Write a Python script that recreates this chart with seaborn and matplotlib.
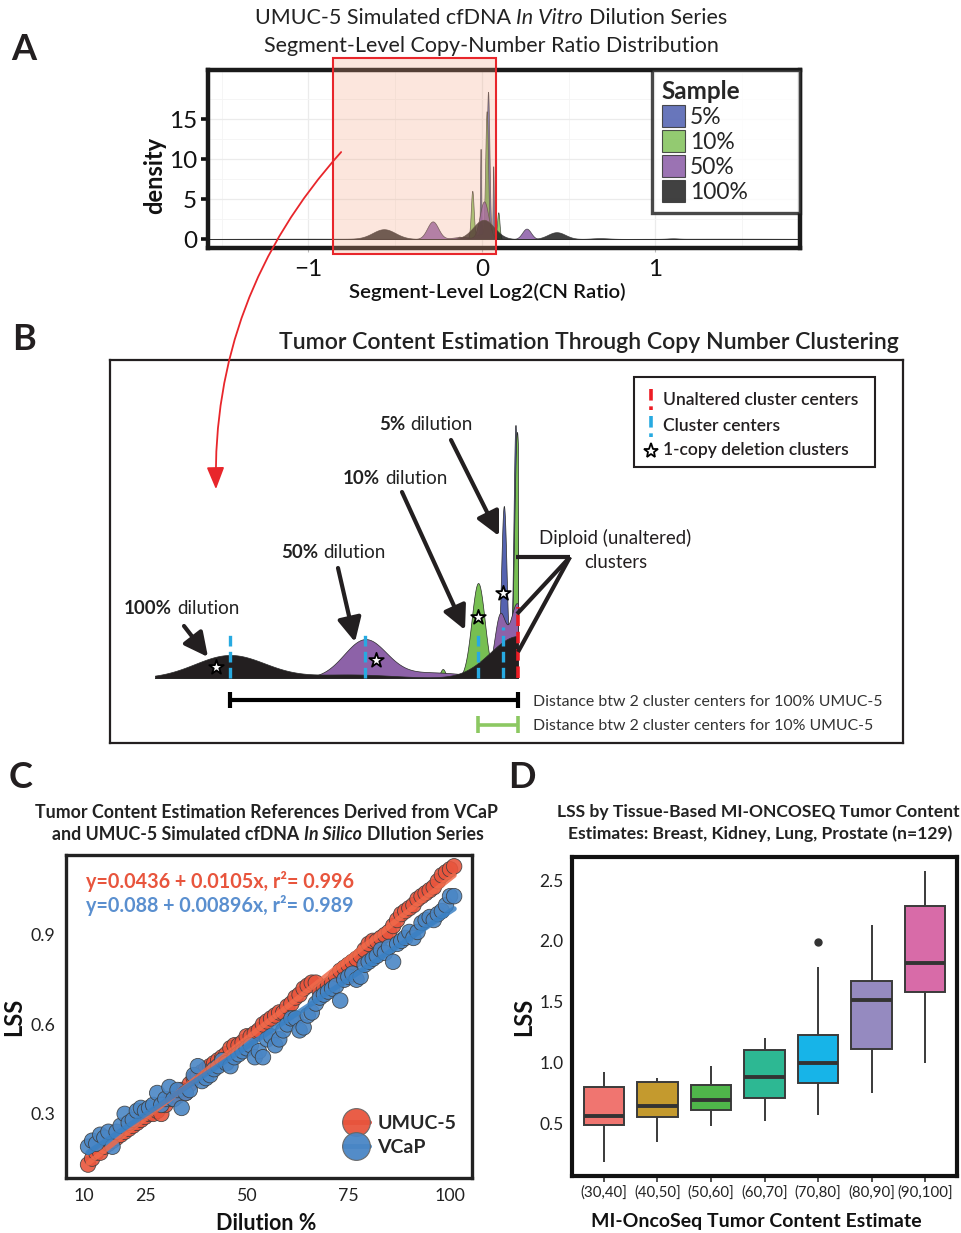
import numpy as np
import pandas as pd
import matplotlib
matplotlib.use("Agg")
import matplotlib.pyplot as plt
import seaborn as sns
from matplotlib.patches import Rectangle, FancyArrowPatch, Patch
from matplotlib.lines import Line2D
from matplotlib.transforms import blended_transform_factory

# ======================= DATA =======================
samples = ["5%", "10%", "50%", "100%"]
sample_colors = ["#4d5eb0", "#80c158", "#8a5aa6", "#1f1f1f"]

# Panel A: density peaks (log2 ratio centre, peak density, peak width)
a_centers = {"5%": [0.035, -0.008, 0.065, 0.0],
             "10%": [-0.056, 0.027, 0.094, -0.13, 0.0],
             "50%": [-0.284, 0.012, 0.257, -0.12],
             "100%": [-0.565, 0.01, 0.43, 0.68, 1.10, -1.0, 1.4]}
a_heights = {"5%": [18.0, 10.5, 9.0, 0.8],
             "10%": [5.8, 15.5, 3.3, 0.3, 0.6],
             "50%": [2.2, 4.7, 1.3, 0.25],
             "100%": [1.2, 2.4, 0.85, 0.1, 0.06, 0.04, 0.04]}
a_widths = {"5%": [0.008, 0.003, 0.003, 0.03],
            "10%": [0.008, 0.008, 0.007, 0.008, 0.04],
            "50%": [0.032, 0.025, 0.025, 0.05],
            "100%": [0.065, 0.06, 0.05, 0.05, 0.03, 0.45, 0.45]}

# Panel B: schematic zoom of the boxed region (relative heights)
b_colors = {"5%": "#5563b0", "10%": "#77bf52", "50%": "#8d62a8", "100%": "#231f20"}
b_draw_order = ["5%", "10%", "50%", "100%"]
b_centers = {"5%": [-0.028, -0.005], "10%": [-0.079, -0.149, -0.002],
             "50%": [-0.303, -0.17, -0.036, -0.002], "100%": [-0.57, -0.33, 0.0]}
b_heights = {"5%": [17.2, 25.3], "10%": [9.5, 0.9, 24.6],
             "50%": [3.8, 0.55, 6.0, 7.4], "100%": [2.3, 0.35, 4.2]}
b_widths = {"5%": [0.0055, 0.004], "10%": [0.013, 0.005, 0.0055],
            "50%": [0.042, 0.07, 0.011, 0.014], "100%": [0.07, 0.08, 0.055]}
b_cluster_centers = [-0.570, -0.303, -0.079, -0.030]
b_cluster_line_tops = [4.5, 4.5, 4.6, 5.1]
b_unaltered_center = 0.0
b_unaltered_top = 7.1
b_star_x = [-0.598, -0.281, -0.079, -0.030]
b_star_y = [1.1, 1.8, 6.1, 8.5]

# Panel C: LSS vs dilution
dilution = list(range(11, 102))
umuc5_lss = [0.13, 0.15, 0.17, 0.17, 0.19, 0.20, 0.21, 0.22, 0.23, 0.24,
             0.25, 0.26, 0.27, 0.28, 0.29, 0.30, 0.30, 0.31, 0.30, 0.33,
             0.35, 0.35, 0.36, 0.38, 0.37, 0.40, 0.42, 0.43, 0.44, 0.45,
             0.46, 0.47, 0.48, 0.49, 0.50, 0.52, 0.53, 0.53, 0.54, 0.56,
             0.56, 0.57, 0.58, 0.60, 0.61, 0.62, 0.63, 0.64, 0.64, 0.66,
             0.67, 0.69, 0.70, 0.72, 0.73, 0.74, 0.74, 0.71, 0.72, 0.73,
             0.74, 0.76, 0.78, 0.79, 0.80, 0.81, 0.82, 0.83, 0.85, 0.87,
             0.88, 0.88, 0.89, 0.90, 0.91, 0.93, 0.95, 0.97, 0.98, 0.99,
             1.00, 1.02, 1.03, 1.04, 1.05, 1.06, 1.08, 1.10, 1.11, 1.12,
             1.13]
vcap_lss = [0.19, 0.21, 0.20, 0.23, 0.22, 0.24, 0.19, 0.24, 0.26, 0.30,
            0.27, 0.28, 0.31, 0.32, 0.31, 0.32, 0.33, 0.37, 0.33, 0.35,
            0.39, 0.35, 0.38, 0.32, 0.37, 0.38, 0.43, 0.46, 0.41, 0.42,
            0.43, 0.45, 0.46, 0.48, 0.47, 0.46, 0.49, 0.50, 0.51, 0.52,
            0.53, 0.49, 0.51, 0.49, 0.55, 0.56, 0.53, 0.55, 0.58, 0.60,
            0.62, 0.62, 0.58, 0.59, 0.63, 0.64, 0.67, 0.69, 0.70, 0.71,
            0.72, 0.73, 0.68, 0.75, 0.76, 0.77, 0.75, 0.76, 0.80, 0.81,
            0.82, 0.83, 0.85, 0.84, 0.86, 0.81, 0.87, 0.88, 0.89, 0.91,
            0.89, 0.91, 0.94, 0.95, 0.96, 0.95, 0.97, 0.98, 1.00, 1.03,
            1.03]
c_series = ["UMUC-5", "VCaP"]
c_point_colors = ["#e8553d", "#4a86c5"]
c_line_colors = ["#f06a4a", "#3a80c3"]
c_equations = ["y=0.0436 + 0.0105x, r\u00b2= 0.996", "y=0.088 + 0.00896x, r\u00b2= 0.989"]
c_eq_colors = ["#e8553d", "#5a8fcf"]

# Panel D: LSS by tumour-content bin
d_bins = ["(30,40]", "(40,50]", "(50,60]", "(60,70]", "(70,80]", "(80,90]", "(90,100]"]
d_lss = [[0.184, 0.486, 0.563, 0.80, 0.924],
         [0.35, 0.555, 0.642, 0.84, 0.875],
         [0.48, 0.607, 0.69, 0.818, 0.97],
         [0.519, 0.71, 0.878, 1.103, 1.199],
         [0.568, 0.70, 0.829, 0.92, 0.998, 1.10, 1.224, 1.783, 1.99],
         [0.747, 1.114, 1.514, 1.67, 2.13],
         [0.993, 1.58, 1.818, 2.29, 2.575]]
d_colors = ["#f07570", "#c49a2e", "#4fb64a", "#2db893", "#17b4e8", "#958ac0", "#d86ba8"]

# ======================= FIGURE =======================
sns.set_theme(style="white")
plt.rcParams["font.family"] = ["Lato", "DejaVu Sans"]
plt.rcParams["axes.unicode_minus"] = True

W, H = 961, 1233
fig = plt.figure(figsize=(W / 100, H / 100), dpi=100)
fig.patch.set_facecolor("white")


def fx(x):
    return x / W


def fy(y):
    return 1 - y / H


def rect(l, t, r, b):
    return [l / W, 1 - b / H, (r - l) / W, (b - t) / H]


def ftext(x, y, s, **kw):
    kw.setdefault("va", "center")
    return fig.text(fx(x), fy(y), s, **kw)


renderer = fig.canvas.get_renderer()


def rich(x, y, parts, size, ha="center", color="#222"):
    texts = [fig.text(0, fy(y), s, fontsize=size, fontweight=w, fontstyle=st,
                      color=color, ha="left", va="center") for s, w, st in parts]
    p1 = fig.text(0, 0, "x x", fontsize=size)
    p2 = fig.text(0, 0, "xx", fontsize=size)
    sp = p1.get_window_extent(renderer).width - p2.get_window_extent(renderer).width
    p1.remove(); p2.remove()
    widths = [t.get_window_extent(renderer).width for t in texts]
    total = sum(widths) + sp * (len(texts) - 1)
    x0 = x - total / 2 if ha == "center" else x
    for t, wd in zip(texts, widths):
        t.set_x(fx(x0))
        x0 += wd + sp
    return texts


def mixture(x, cs, hs, ws):
    out = np.zeros_like(x)
    for c, h, w in zip(cs, hs, ws):
        out += h * np.exp(-0.5 * ((x - c) / w) ** 2)
    return out


# ---------------- Panel A ----------------
axA = fig.add_axes(rect(208, 70, 800, 248))
xa = np.linspace(-1.579, 1.833, 20000)
for s, col in zip(samples, sample_colors):
    dens = mixture(xa, a_centers[s], a_heights[s], a_widths[s])
    axA.fill_between(xa, 0, dens, facecolor=col, alpha=0.85, edgecolor="#333333", lw=0.5, zorder=2)
axA.set_xlim(-1.579, 1.833)
axA.set_ylim(-1.125, 21.125)
axA.set_xticks([-1, 0, 1])
axA.set_xticklabels(["\u22121", "0", "1"])
axA.set_xticks([-1.5, -0.5, 0.5, 1.5], minor=True)
axA.set_yticks([0, 5, 10, 15])
axA.set_yticks([2.5, 7.5, 12.5, 17.5], minor=True)
axA.grid(True, which="major", color="#ebebeb", lw=0.9)
axA.grid(True, which="minor", color="#f4f4f4", lw=0.6)
axA.set_axisbelow(True)
for sp in axA.spines.values():
    sp.set_linewidth(3.2)
    sp.set_color("#1a1a1a")
axA.tick_params(axis="y", which="major", left=True, length=5, width=2.6, color="#111",
                labelsize=17.5, pad=3, labelcolor="#111")
axA.tick_params(axis="x", which="major", bottom=True, length=3, width=0.8, color="#bbbbbb",
                labelsize=17.5, pad=5, labelcolor="#111")
axA.tick_params(which="minor", length=0)
axA.set_ylabel("density", fontsize=17, fontweight="bold", color="#111", va="center")
axA.yaxis.set_label_coords(-0.0895, 0.41)
axA.set_xlabel("Segment-Level Log2(CN Ratio)", fontsize=14.7, fontweight="semibold", color="#111",
               va="center")
axA.xaxis.set_label_coords(0.471, -0.247)
legA = axA.legend(handles=[Patch(facecolor=c, edgecolor="#333", lw=0.8, alpha=0.85)
                           for c in sample_colors],
                  labels=samples, title="Sample", loc="upper left",
                  bbox_to_anchor=((652 - 208) / 592, 0.0, 148 / 592, 1.0), mode="expand",
                  fontsize=16.5, title_fontsize=17.5, handlelength=1.0, handleheight=1.1,
                  labelspacing=0.1, handletextpad=0.25, borderpad=0.42, borderaxespad=0,
                  alignment="left", frameon=True, fancybox=False)
legA.get_title().set_fontweight("bold")
legA.get_frame().set_linewidth(2.4)
legA.get_frame().set_edgecolor("#1a1a1a")
legA.set_zorder(5)

# red highlight box and arrow
trA = blended_transform_factory(axA.transData, fig.transFigure)
hl = Rectangle((-0.859, fy(254)), 0.081 + 0.859, (254 - 58) / H, transform=trA,
               facecolor=(0.957, 0.647, 0.51, 0.27), edgecolor="#e8262b", lw=1.5, zorder=10)
fig.add_artist(hl)
fig.add_artist(FancyArrowPatch((fx(343), fy(150)), (fx(216), fy(492)), transform=fig.transFigure,
                               connectionstyle="arc3,rad=0.2",
                               arrowstyle="-|>,head_length=0.75,head_width=0.3",
                               mutation_scale=18, lw=1.3, color="#e8262b", zorder=11))

rich(491, 18, [("UMUC-5 Simulated cfDNA", "normal", "normal"), ("In Vitro", "normal", "italic"),
               ("Dilution Series", "normal", "normal")], 15.5)
rich(491, 46, [("Segment-Level Copy-Number Ratio Distribution", "normal", "normal")], 15.5)

# ---------------- Panel B ----------------
axB = fig.add_axes(rect(110, 360, 903, 743))
axB.set_xlim((110 - 518) / 505, (903 - 518) / 505)
axB.set_ylim(-(743 - 678) / 10, (678 - 360) / 10)
axB.set_xticks([]); axB.set_yticks([])
for sp in axB.spines.values():
    sp.set_linewidth(1.6)
    sp.set_color("#231f20")
xb = np.linspace(-0.719, 0.0, 6000)
for z, s in enumerate(b_draw_order):
    dens = mixture(xb, b_centers[s], b_heights[s], b_widths[s])
    axB.fill_between(xb, 0, dens, facecolor=b_colors[s], edgecolor="#2a2a2a", lw=0.5, zorder=2 + z)
axB.vlines(b_cluster_centers, 0, b_cluster_line_tops, colors="#27aae1", lw=2.4,
           linestyles=(0, (3.2, 1.6)), zorder=8)
axB.vlines([b_unaltered_center], 0, [b_unaltered_top], colors="#ed1c24", lw=2.6,
           linestyles=(0, (3.2, 1.6)), zorder=9)
axB.scatter(b_star_x, b_star_y, marker="*", s=120, facecolor="white", edgecolor="black",
            lw=1.3, zorder=10)
# distance bars between cluster centres
axB.hlines([-2.2], b_cluster_centers[0], b_unaltered_center, colors="black", lw=3.0)
axB.vlines([b_cluster_centers[0], b_unaltered_center], -3.0, -1.4, colors="black", lw=3.0)
axB.hlines([-4.65], b_cluster_centers[2], b_unaltered_center, colors="#8cc862", lw=2.6)
axB.vlines([b_cluster_centers[2], b_unaltered_center], -5.5, -3.8, colors="#8cc862", lw=2.6)

rich(589, 343, [("Tumor Content Estimation Through Copy Number Clustering", "semibold", "normal")], 16.6)

# legend box in B
fig.add_artist(Rectangle((fx(634), fy(467)), (875 - 634) / W, (467 - 377) / H,
                         transform=fig.transFigure, facecolor="white", edgecolor="#231f20",
                         lw=1.5, zorder=12))
fig.add_artist(Line2D([fx(651)] * 2, [fy(389), fy(410)], transform=fig.transFigure,
                      color="#ed1c24", lw=2.6, dashes=(3.2, 1.6), zorder=13))
fig.add_artist(Line2D([fx(651)] * 2, [fy(416), fy(437)], transform=fig.transFigure,
                      color="#27aae1", lw=2.6, dashes=(3.2, 1.6), zorder=13))
fig.add_artist(Line2D([fx(651)], [fy(451)], transform=fig.transFigure, marker="*",
                      markersize=11, markerfacecolor="white", markeredgecolor="black",
                      markeredgewidth=1.3, zorder=13))
for yy, s in zip([400, 426, 450], ["Unaltered cluster centers", "Cluster centers",
                                   "1-copy deletion clusters"]):
    ftext(663, yy, s, fontsize=12.6, fontweight="semibold", color="#231f20", zorder=14)

# annotations in B
rich(379, 425, [("5%", "bold", "normal"), ("dilution", "normal", "normal")], 13.5, ha="left")
rich(343, 478, [("10%", "bold", "normal"), ("dilution", "normal", "normal")], 13.5, ha="left")
rich(281, 552, [("50%", "bold", "normal"), ("dilution", "normal", "normal")], 13.5, ha="left")
rich(124, 608, [("100%", "bold", "normal"), ("dilution", "normal", "normal")], 13.5, ha="left")
arrow_kw = dict(transform=fig.transFigure, arrowstyle="-|>,head_length=0.9,head_width=0.45",
                mutation_scale=16, lw=3.0, color="#231f20", shrinkA=0, shrinkB=0, zorder=12)
for (x0, y0), (x1, y1) in [((451, 440), (499, 536)), ((402, 492), (465, 630)),
                           ((338, 568), (355, 642)), ((184, 626), (208, 657))]:
    fig.add_artist(FancyArrowPatch((fx(x0), fy(y0)), (fx(x1), fy(y1)), **arrow_kw))
for pts in [[(516, 557), (570, 557)], [(570, 557), (517, 614)], [(570, 557), (518, 652)]]:
    fig.add_artist(Line2D([fx(p[0]) for p in pts], [fy(p[1]) for p in pts],
                          transform=fig.transFigure, color="#231f20", lw=3.0,
                          solid_capstyle="butt", zorder=12))
ftext(615, 538, "Diploid (unaltered)", fontsize=13.4, ha="center", color="#231f20")
ftext(616, 562, "clusters", fontsize=13.4, ha="center", color="#231f20")
ftext(533, 702, "Distance btw 2 cluster centers for 100% UMUC-5", fontsize=11.4, color="#333")
ftext(533, 726, "Distance btw 2 cluster centers for 10% UMUC-5", fontsize=11.4, color="#333")

# ---------------- Panel C ----------------
axC = fig.add_axes(rect(66, 855, 472, 1178))
dfC = pd.DataFrame({"dilution": dilution * 2,
                    "lss": umuc5_lss + vcap_lss,
                    "line": [c_series[0]] * len(dilution) + [c_series[1]] * len(dilution)})
sns.scatterplot(data=dfC, x="dilution", y="lss", hue="line", palette=dict(zip(c_series, c_point_colors)),
                s=125, edgecolor="#3d3d3d", linewidth=0.6, alpha=0.9, legend=False, ax=axC, zorder=3)
for vals, col in zip([umuc5_lss, vcap_lss], c_line_colors):
    sns.regplot(x=dilution, y=vals, scatter=False, ci=None, color=col,
                line_kws=dict(lw=3.8, alpha=0.85, zorder=4), ax=axC)
axC.set_xlim(5.57, 105.4)
axC.set_ylim(0.085, 1.168)
axC.set_xticks([10, 25, 50, 75, 100])
axC.set_yticks([0.3, 0.6, 0.9])
axC.set_yticklabels(["0.3", "0.6", "0.9"])
axC.tick_params(axis="both", length=0, labelsize=12.8, labelcolor="#222")
axC.tick_params(axis="y", pad=8)
axC.tick_params(axis="x", pad=7)
for sp in axC.spines.values():
    sp.set_linewidth(2.4)
    sp.set_color("#222")
axC.set_ylabel("LSS", fontsize=17, fontweight="bold", color="#111", va="center")
axC.yaxis.set_label_coords(-0.128, 0.498)
axC.set_xlabel("Dilution %", fontsize=15.5, fontweight="bold", color="#111", va="center")
axC.xaxis.set_label_coords(0.493, -0.142)
legC = axC.legend(handles=[Line2D([0], [0], color=lc, lw=3.5, marker="o", markersize=20,
                                  markerfacecolor=pc, markeredgecolor="#666", markeredgewidth=0.8,
                                  alpha=0.95)
                           for pc, lc in zip(c_point_colors, ["#e03a2a", "#3a80c3"])],
                  labels=c_series, loc="lower right", bbox_to_anchor=(1.0, 0.02), frameon=False,
                  prop=dict(size=14, weight="bold"), handlelength=1.3, handletextpad=0.45,
                  labelspacing=0.35, borderaxespad=0.4)
for eq, col, yy in zip(c_equations, c_eq_colors, [881, 905]):
    ftext(86, yy, eq, fontsize=14.2, fontweight="bold", color=col)
rich(266, 812, [("Tumor Content Estimation References Derived from VCaP", "bold", "normal")], 12.8)
rich(268, 834, [("and UMUC-5 Simulated cfDNA", "bold", "normal"), ("In Silico", "bold", "italic"),
                ("DIlution Series", "bold", "normal")], 12.8)

# ---------------- Panel D ----------------
axD = fig.add_axes(rect(572, 857, 957, 1176))
dfD = pd.DataFrame({"bin": [b for b, v in zip(d_bins, d_lss) for _ in v],
                    "lss": [x for v in d_lss for x in v]})
sns.boxplot(data=dfD, x="bin", y="lss", hue="bin", order=d_bins, hue_order=d_bins,
            palette=dict(zip(d_bins, d_colors)), saturation=1, width=0.75, linewidth=1.4,
            linecolor="#3a3a3a", fliersize=5, legend=False, whis=1.5,
            medianprops=dict(linewidth=2.8, color="#333"),
            capprops=dict(linewidth=0),
            flierprops=dict(marker="o", markerfacecolor="#333", markeredgecolor="#333"),
            ax=axD)
axD.set_xlim(-0.598, 6.598)
axD.set_ylim(0.067, 2.69)
axD.set_yticks([0.5, 1.0, 1.5, 2.0, 2.5])
axD.set_yticklabels(["0.5", "1.0", "1.5", "2.0", "2.5"])
axD.tick_params(axis="y", length=0, labelsize=12.5, pad=6, labelcolor="#222")
axD.tick_params(axis="x", bottom=True, length=4.5, width=1.2, color="#333", labelsize=10.8,
                pad=2.5, labelcolor="#222")
for sp in axD.spines.values():
    sp.set_linewidth(3.0)
    sp.set_color("#111")
axD.set_ylabel("LSS", fontsize=17, fontweight="bold", color="#111", va="center")
axD.yaxis.set_label_coords(-0.125, 0.498)
axD.set_xlabel("MI-OncoSeq Tumor Content Estimate", fontsize=14, fontweight="bold", color="#111",
               va="center")
axD.xaxis.set_label_coords(0.48, -0.144)
rich(758, 812, [("LSS by Tissue-Based MI-ONCOSEQ Tumor Content", "bold", "normal")], 12.6)
rich(760, 834, [("Estimates: Breast, Kidney, Lung, Prostate (n=129)", "bold", "normal")], 12.6)

# panel letters
for s, (x, y) in zip("ABCD", [(24, 50), (24, 340), (21, 778), (522, 778)]):
    ftext(x, y, s, fontsize=26, fontweight="bold", ha="center", color="#231f20")

fig.savefig("out.png", dpi=100)
